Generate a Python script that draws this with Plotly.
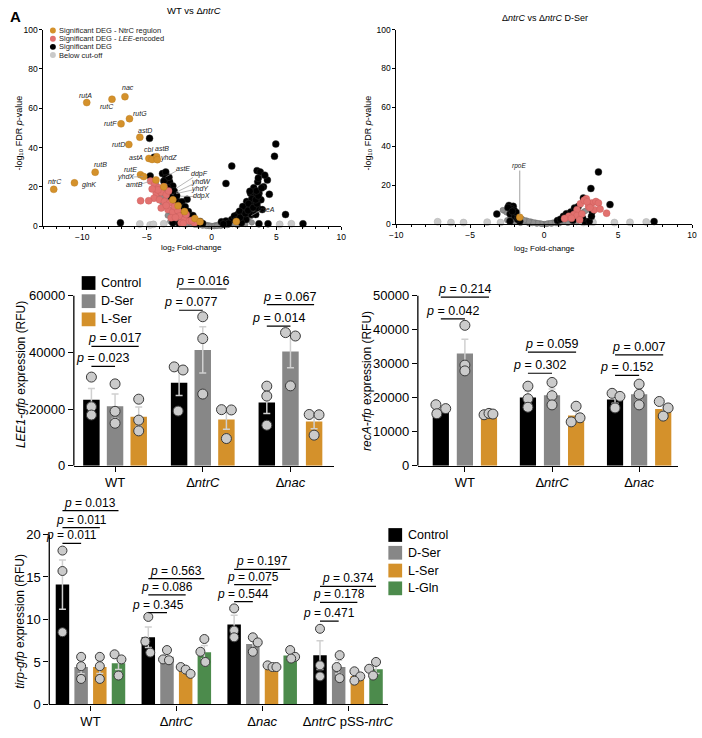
import plotly.graph_objects as go

W, H = 702, 738
FONT = "Arial, Liberation Sans, Helvetica, sans-serif"


def fx(p):
    return p / W


def fy(p):
    return 1 - p / H


ORANGE = "#D4912B"
PINK = "#E2716F"
GREEN = "#4C8B4C"
BARGRAY = "#878787"
LGRAY = "#C9C9C9"
MGRAY = "#8E8E8E"
ERRC = "#D0D0D0"
LABC = "#222222"

# ======================= DATA =======================
# ---- Volcano A : WT vs dntrC ----
A_reg_x = [-12.2, -10.6, -9.0, -9.65, -7.7, -6.7, -7.0, -6.35, -5.55, -6.4, -4.85, -4.6, -4.25, -4.2,
           -5.5, -5.25, -4.3, -3.7, -3.0, -2.6, -2.1, -1.3, -0.9, 1.9]
A_reg_y = [18.8, 22.1, 27.5, 62.9, 64.6, 65.9, 52.1, 54.7, 45.3, 41.6, 34.5, 34.0, 35.4, 33.9,
           26.2, 25.3, 23.6, 20.1, 13.5, 10.5, 7.5, 4.0, 2.3, 2.5]
A_lee_x = [-4.72, -4.41, -4.1, -3.69, -4.28, -3.9, -3.51, -4.46, -4.03, -3.64, -3.26, -5.49, -4.87, -3.9,
           -3.38, -3.0, -2.62, -3.13, -2.49, -2.1, -1.72, -1.33, -3.51, -2.87, -4.15, -3.33, -2.36, -1.97,
           -4.6, -2.8, -2.2, -1.55]
A_lee_y = [23.0, 21.3, 19.6, 20.1, 16.8, 17.3, 16.0, 14.3, 13.5, 12.6, 11.8, 13.0, 13.0, 9.3,
           8.5, 7.3, 8.0, 4.3, 5.2, 3.5, 2.7, 1.8, 10.6, 10.1, 18.5, 18.0, 1.8, 6.0,
           19.0, 4.5, 1.5, 3.0]
A_sig_x = [-4.8, -4.45, -4.75, -3.8, -3.55, -3.25, -3.0, -3.3, -1.9, -7.05, -3.0, -2.5, -2.8, -2.45,
           -2.2, -2.0, -1.7, -1.5, -1.2, -1.0, -3.1, -2.6, -3.55, -3.4,
           -3.7, -3.3, -2.9, -2.7, -2.3, -2.05, -1.8, -1.45, -0.9, -0.7,
           4.95, 4.85, 1.55, 1.1, 3.5, 3.75, 3.55, 4.3, 4.0, 4.45, 5.7, 7.05, 3.65, 4.35, 0.75, 1.55,
           2.0, 2.5, 2.9, 3.15, 3.3, 3.0, 3.25, 2.7, 2.4, 2.15, 1.75, 1.1, 3.8, 3.55, 3.05, 2.65,
           2.3, 3.4, 3.9, 3.65, 3.1, 2.85, 1.3,
           0.9, 1.9, 2.2, 2.6, 2.8, 3.2, 3.5, 3.4, 3.6, 3.45, 3.85, 2.95, 4.1, 3.6]
A_sig_y = [44.7, 35.1, 25.6, 26.8, 27.6, 22.6, 20.5, 17.0, 13.7, 1.8, 1.8, 1.5, 11.0, 9.0,
           7.0, 5.5, 4.0, 3.0, 2.0, 1.5, 14.5, 12.5, 24.5, 19.5,
           23.0, 25.0, 18.0, 15.5, 12.5, 10.0, 7.5, 5.5, 2.5, 1.5,
           41.8, 35.6, 30.6, 21.8, 28.3, 27.6, 22.6, 23.5, 20.1, 16.3, 6.0, 1.3, 1.3, 1.3, 2.3, 3.5,
           6.0, 8.5, 10.6, 12.6, 15.1, 16.8, 19.6, 12.6, 10.1, 7.7, 5.2, 2.7, 13.5, 9.3, 6.0, 3.5,
           1.8, 6.0, 8.5, 16.8, 14.0, 11.5, 1.5,
           1.2, 3.2, 4.5, 6.5, 8.0, 9.5, 11.5, 13.5, 15.5, 18.0, 19.5, 17.8, 26.0, 24.5]
A_cut_x = [-5.55, -4.75, -4.5, -3.7, 5.25, 6.15]
A_cut_y = [1.2, 0.7, 1.0, 1.3, 1.0, 1.3]
A_ns_x = [-0.3, -0.6, -0.9, -1.2, -1.5, -1.8, -2.1, -2.4, -2.7, -3.0, -3.3, -3.6, -3.9,
          -0.5, -0.8, -1.1, -1.4, -1.7, -2.0, -2.3, -2.6, -2.9, -3.2, -3.5, -3.8,
          -0.7, -1.0, -1.3, -1.6, -1.9, -2.2, -2.5, -2.8, -3.1, -3.4,
          -1.0, -1.5, -2.0, -2.5, -3.0,
          -0.2, -0.45, -0.75, -1.05, -1.35, -1.65, -1.95, -2.25, -2.55, -2.85, -3.15, -3.45, -3.75,
          -4.05, -4.3, -1.2, -1.8, -2.4, -2.7, -3.0, -3.3, -3.6, -3.9, -4.2, -2.0, -2.6, -3.2,
          0.3, 0.6, 0.9, 1.2, 1.5, 1.8, 2.1, 2.4, 2.7, 3.0, 3.2,
          0.5, 0.8, 1.1, 1.4, 1.7, 2.0, 2.3, 2.6, 2.9,
          0.7, 1.0, 1.3, 1.6, 1.9, 2.2, 2.5, 2.8,
          0.2, 0.45, 0.75, 1.05, 1.35, 1.65, 1.95, 2.25, 2.55, 2.85, 3.1, 3.35,
          1.2, 1.8, 2.4, 2.7, 3.0, 3.2, 3.4, 2.0, 2.6, 3.1,
          0.0, 0.1, -0.1, 0.2, -0.2, 0.4, -0.4]
A_ns_y = [0.6, 1.2, 2.0, 2.9, 3.9, 5.0, 6.4, 7.9, 9.6, 11.5, 13.6, 15.8, 18.5,
          0.5, 1.1, 1.6, 2.3, 3.0, 3.8, 4.7, 5.8, 7.0, 8.3, 10.0, 12.0,
          0.3, 0.5, 0.8, 1.2, 1.6, 2.2, 2.8, 3.5, 4.5, 5.5,
          1.3, 2.0, 2.8, 4.0, 6.0,
          0.4, 0.8, 1.5, 2.2, 3.2, 4.3, 5.6, 7.0, 8.6, 10.4, 12.4, 14.6, 17.0,
          19.5, 21.5, 1.0, 2.0, 3.2, 5.0, 6.5, 8.0, 12.5, 14.5, 16.5, 0.8, 1.5, 2.5,
          0.5, 1.0, 1.7, 2.5, 3.4, 4.5, 5.8, 7.3, 9.0, 11.0, 13.0,
          0.4, 0.8, 1.3, 1.9, 2.6, 3.4, 4.3, 5.4, 6.8,
          0.2, 0.5, 0.8, 1.1, 1.5, 2.0, 2.6, 3.3,
          0.3, 0.7, 1.3, 2.0, 2.9, 3.9, 5.1, 6.5, 8.1, 9.9, 12.0, 14.5,
          0.6, 1.2, 2.2, 4.0, 5.0, 8.0, 10.5, 0.6, 1.2, 2.0,
          0.1, 0.2, 0.3, 0.1, 0.1, 0.2, 0.2]
A_lab_text = ["ntrC", "glnK", "rutB", "rutA", "rutC", "nac", "rutF", "rutG", "astD", "rutD",
              "cbl", "astB", "astA", "yhdZ", "rutE", "yhdX", "amtB", "astE", "ddpF", "yhdW",
              "yhdY", "ddpX", "rseA"]
A_lab_x = [-12.1, -9.5, -8.6, -9.75, -8.1, -6.45, -7.85, -5.55, -5.15, -7.2,
           -4.9, -3.8, -5.87, -3.3, -6.25, -6.65, -6.0, -2.2, -0.95, -0.85,
           -0.9, -0.8, 4.3]
A_lab_y = [22.6, 21.0, 31.2, 66.5, 61.0, 70.5, 52.2, 57.2, 48.8, 41.4,
           39.0, 39.3, 35.0, 34.5, 28.7, 25.1, 21.2, 29.3, 26.5, 22.6,
           19.0, 15.2, 8.6]
# leader lines: start (near label) -> end (at the gene's point)
A_lead_sx = [-6.05, -5.45, -2.7, -1.45, -1.35, -1.4, -1.3, 3.75]
A_lead_sy = [25.1, 21.5, 28.3, 24.8, 21.8, 18.6, 15.1, 8.0]
A_lead_ex = [-5.3, -4.8, -3.5, -2.7, -2.75, -2.75, -2.4, 3.05]
A_lead_ey = [25.3, 22.8, 25.3, 19.5, 17.3, 16.6, 15.3, 5.4]

# ---- Volcano B : dntrC vs dntrC D-Ser ----
B_reg_x = [-1.65]
B_reg_y = [3.5]
B_lee_x = [2.85, 3.22, 3.5, 3.67, 3.38, 3.78, 4.22, 2.45, 2.22, 2.0, 1.67, 1.38, 2.22, 2.55,
           2.7, 3.0, 2.9, 1.85, 2.4, 3.1]
B_lee_y = [13.0, 10.8, 11.6, 10.8, 7.4, 7.7, 5.6, 10.4, 7.4, 4.9, 4.0, 2.9, 4.4, 5.2,
           12.2, 9.0, 11.5, 3.0, 2.2, 8.4]
B_sig_x = [-3.2, -2.38, -2.09, -2.24, -2.02, -2.3, -1.98, -2.31, -1.65, -1.88, -2.45, -2.15, -1.8, -1.75,
           3.67, 3.16, 4.45, 3.25, 2.65, 0.9, 1.3, 1.5, 1.8, 2.05, 2.3, 2.75, 3.05, 3.2, 1.1, 7.43, 1.95, 2.6]
B_sig_y = [5.2, 9.6, 9.1, 7.9, 7.0, 5.2, 4.0, 1.5, 1.5, 5.9, 8.5, 6.5, 2.5, 3.3,
           26.8, 18.3, 10.0, 6.5, 13.4, 1.8, 4.0, 5.3, 6.2, 8.3, 9.0, 1.5, 1.5, 4.0, 2.5, 1.3, 2.0, 3.0]
B_cut_x = [-7.2, -6.3, -5.45, -3.85, -2.95, 2.65, 3.0, 3.3, 4.75, 5.8, 6.9]
B_cut_y = [1.2, 0.8, 0.8, 1.0, 0.8, 0.8, 0.9, 0.9, 0.8, 0.9, 1.1]
B_ns_x = [-0.3, -0.6, -0.9, -1.2, -1.5, -1.8, -2.1, -2.4, -2.7,
          -0.5, -0.8, -1.1, -1.4, -1.7, -2.0, -2.3,
          0.3, 0.6, 0.9, 1.2, 1.5, 1.8, 2.1, 2.4, 2.7,
          0.5, 0.8, 1.1, 1.4, 1.7, 2.0, 2.3,
          -1.0, -1.6, -2.2, 1.0, 1.6, 2.2, 0.0, 0.15, -0.15,
          -0.2, -0.45, -0.75, -1.05, -1.35, -1.65, -1.95, -2.25, -2.55, -2.8,
          0.2, 0.45, 0.75, 1.05, 1.35, 1.65, 1.95, 2.25, 2.55, 2.8,
          -2.5, -1.9, 1.9, 2.5]
B_ns_y = [0.4, 0.8, 1.3, 1.9, 2.7, 3.6, 4.6, 5.8, 6.8,
          0.2, 0.5, 0.8, 1.2, 1.6, 2.2, 2.9,
          0.4, 0.8, 1.3, 1.9, 2.6, 3.5, 4.5, 5.6, 6.5,
          0.2, 0.5, 0.8, 1.2, 1.6, 2.2, 2.8,
          0.3, 0.6, 1.0, 0.3, 0.6, 1.0, 0.05, 0.1, 0.1,
          0.2, 0.5, 0.9, 1.4, 2.0, 2.8, 3.7, 4.8, 6.0, 7.2,
          0.2, 0.5, 0.9, 1.4, 2.0, 2.8, 3.7, 4.7, 5.8, 6.8,
          2.0, 1.2, 1.2, 2.0]

# ---- Panel C : LEE1-gfp ----
C_groups = ["WT", "Δ<i>ntrC</i>", "Δ<i>nac</i>"]
C_series = ["Control", "D-Ser", "L-Ser"]
C_mean = [[23300, 29300, 22300], [21000, 40900, 40300], [17300, 16300, 15600]]
C_sem = [[4000, 4500, 3900], [4300, 8200, 5700], [3400, 3400, 2500]]
C_pts = [[[31300, 20800, 17900], [34900, 33800, 19300], [28100, 24600, 14300]],
         [[28900, 19200, 15000], [52600, 44900, 25300], [47000, 45800, 28200]],
         [[23500, 16100, 12300], [19800, 19700, 9600], [18100, 18000, 10800]]]
C_p = [("0.023", 0, 1, 35100), ("0.017", 0, 2, 42150), ("0.077", 1, 1, 54900),
       ("0.016", 1, 2, 62400), ("0.014", 2, 1, 49300), ("0.067", 2, 2, 56900)]

# ---- Panel D : recA-rfp ----
D_groups = ["WT", "Δ<i>ntrC</i>", "Δ<i>nac</i>"]
D_mean = [[16500, 20100, 19500], [33000, 20700, 21000], [15100, 14800, 16700]]
D_sem = [[800, 1800, 1100], [4200, 1900, 1800], [300, 1300, 1250]]
D_pts = [[[17950, 16800, 15300], [23400, 19700, 17200], [21300, 20400, 17000]],
         [[41300, 29600, 27900], [24500, 20600, 17900], [24000, 21000, 17900]],
         [[15000, 15400, 15200], [17500, 14100, 12900], [18900, 17000, 14600]]]
D_p = [("0.042", 0, 1, 43200), ("0.214", 0, 2, 49600), ("0.302", 1, 1, 27200),
       ("0.059", 1, 2, 33400), ("0.152", 2, 1, 26600), ("0.007", 2, 2, 32600)]

# ---- Panel E : tir-gfp ----
E_groups = ["WT", "Δ<i>ntrC</i>", "Δ<i>nac</i>", "Δ<i>ntrC</i> pSS-<i>ntrC</i>"]
E_series = ["Control", "D-Ser", "L-Ser", "L-Gln"]
E_mean = [[14.1, 7.9, 9.4, 5.8], [4.4, 5.6, 7.1, 4.4], [4.4, 3.95, 4.45, 3.35], [4.85, 6.15, 5.75, 4.15]]
E_sem = [[2.9, 1.2, 1.1, 1.7], [0.8, 0.4, 0.55, 0.8], [0.75, 0.25, 0.1, 0.35], [0.75, 0.8, 0.3, 0.5]]
E_pts = [[[18.1, 15.7, 8.5], [10.3, 7.4, 6.1], [11.3, 8.7, 7.9], [8.9, 4.6, 3.3]],
         [[5.6, 4.5, 3.0], [6.4, 5.3, 5.2], [7.9, 7.3, 6.2], [5.8, 4.4, 3.1]],
         [[5.6, 4.5, 3.0], [4.4, 4.1, 3.6], [4.6, 4.4, 4.4], [3.9, 3.3, 2.8]],
         [[5.9, 5.3, 3.4], [7.7, 6.2, 5.0], [6.4, 5.6, 5.4], [5.0, 4.2, 3.4]]]
E_p = [("0.011", 0, 1, 18.95), ("0.011", 0, 2, 20.8), ("0.013", 0, 3, 22.8),
       ("0.345", 1, 1, 10.8), ("0.086", 1, 2, 12.9), ("0.563", 1, 3, 14.8),
       ("0.544", 2, 1, 12.1), ("0.075", 2, 2, 14.1), ("0.197", 2, 3, 15.9),
       ("0.471", 3, 1, 9.8), ("0.178", 3, 2, 12.0), ("0.374", 3, 3, 13.9)]

# point jitter (pixels) - purely visual placement
C_jit = [[[0, 0, 0], [-5, 4, -1], [0, 0, 0]],
         [[0, 0, 0], [0, 0, 0], [-5, 5, 0]],
         [[0, 0, 0], [-5, 5, 0], [-5, 5, 0]]]
D_jit = [[[-5, 5, -4], [0, 0, 0], [-3, 5, 0]],
         [[0, 0, 0], [0, 0, 0], [0, 0, 0]],
         [[-5, 0, 4], [0, 4, -5], [-4, 5, 0]]]
E_jit = [[[0, 0, 0], [0, -3, 2], [0, 0, 0], [0, 0, 0]],
         [[0, 0, 0], [0, -4, 2], [0, 5, 0], [1, -2, 1]],
         [[0, 0, 0], [-5, 0, 5], [-4, 1, 5], [-3, 3, -3]],
         [[-4, 3, 0], [0, -4, 1], [0, 5, 1], [0, -7, -3]]]

# ======================= FIGURE =======================
fig = go.Figure()
shapes = []
ann = []


def txt(x, y, text, size, xanchor="center", yanchor="middle", angle=0, color="black", ref="paper"):
    ann.append(dict(x=x, y=y, xref=ref, yref=ref, text=text, showarrow=False, xanchor=xanchor,
                    yanchor=yanchor, textangle=angle, font=dict(family=FONT, size=size, color=color)))


def vol_panel(n, ns, cut, sig, lee, reg):
    xa = "x" if n == 1 else f"x{n}"
    ya = "y" if n == 1 else f"y{n}"
    common = dict(mode="markers", xaxis=xa, yaxis=ya, showlegend=False, cliponaxis=False, hoverinfo="skip")
    fig.add_trace(go.Scatter(x=ns[0], y=ns[1], marker=dict(size=5.5, color=MGRAY, line=dict(color="#6E6E6E", width=0.5)), **common))
    fig.add_trace(go.Scatter(x=cut[0], y=cut[1], marker=dict(size=7, color=LGRAY, line=dict(color="#AFAFAF", width=0.5)), **common))
    fig.add_trace(go.Scatter(x=sig[0], y=sig[1], marker=dict(size=7, color="black", line=dict(color="#333", width=0.4)), **common))
    fig.add_trace(go.Scatter(x=lee[0], y=lee[1], marker=dict(size=7, color=PINK, line=dict(color="#C85A58", width=0.4)), **common))
    fig.add_trace(go.Scatter(x=reg[0], y=reg[1], marker=dict(size=7, color=ORANGE, line=dict(color="#B87A1C", width=0.4)), **common))


vol_panel(1, (A_ns_x, A_ns_y), (A_cut_x, A_cut_y), (A_sig_x, A_sig_y),
          (A_lee_x, A_lee_y), (A_reg_x, A_reg_y))
for t, x, y in zip(A_lab_text, A_lab_x, A_lab_y):
    ann.append(dict(x=x, y=y, xref="x", yref="y", text=f"<i>{t}</i>", showarrow=False,
                    font=dict(family=FONT, size=7, color=LABC)))
for sx, sy, ex, ey in zip(A_lead_sx, A_lead_sy, A_lead_ex, A_lead_ey):
    shapes.append(dict(type="line", xref="x", yref="y", x0=sx, y0=sy, x1=ex, y1=ey,
                       line=dict(color="#9A9A9A", width=0.7)))

vol_panel(2, (B_ns_x, B_ns_y), (B_cut_x, B_cut_y), (B_sig_x, B_sig_y),
          (B_lee_x, B_lee_y), (B_reg_x, B_reg_y))
ann.append(dict(x=-1.7, y=30.0, xref="x2", yref="y2", text="<i>rpoE</i>", showarrow=False,
                font=dict(family=FONT, size=6.5, color=LABC)))
shapes.append(dict(type="line", xref="x2", yref="y2", x0=B_reg_x[0], x1=B_reg_x[0], y0=27.5, y1=B_reg_y[0] + 1,
                   line=dict(color="#8A8A8A", width=0.8)))


def vol_axes(xdom, ydom, xr, anchor_x, anchor_y):
    xd = dict(domain=xdom, range=xr, anchor=anchor_y, tickvals=[-10, -5, 0, 5, 10], ticks="outside",
              ticklen=3, tickwidth=0.8, tickcolor="black", showline=True, linecolor="black", linewidth=0.8,
              minor=dict(ticks="outside", ticklen=2, dtick=1, tick0=0, tickcolor="black", tickwidth=0.7),
              tickfont=dict(family=FONT, size=8.5, color="black"), showgrid=False, zeroline=False)
    yd = dict(domain=ydom, range=[0, 100], anchor=anchor_x, tickvals=[0, 20, 40, 60, 80, 100],
              ticks="outside", ticklen=3, tickwidth=0.8, tickcolor="black", showline=True,
              linecolor="black", linewidth=0.8, tickfont=dict(family=FONT, size=8.5, color="black"),
              showgrid=False, zeroline=False)
    return xd, yd


xA, yA = vol_axes([fx(37), fx(340)], [fy(225.3), fy(25)], [-13, 10], "x", "y")
xB, yB = vol_axes([fx(396), fx(697)], [fy(223), fy(25)], [-10, 10], "x2", "y2")

# volcano titles / axis titles / legend
txt(fx(190), fy(6), "WT vs Δ<i>ntrC</i>", 9.5)
txt(fx(547), fy(13), "Δ<i>ntrC</i> vs Δ<i>ntrC</i> D-Ser", 9)
txt(fx(188), fy(247), "log₂ Fold-change", 8)
txt(fx(547), fy(248), "log₂ Fold-change", 8)
txt(fx(12), fy(130), "-log₁₀ FDR <i>p</i>-value", 9, angle=-90)
txt(fx(367), fy(130), "-log₁₀ FDR <i>p</i>-value", 9, angle=-90)
txt(fx(1), fy(1), "<b>A</b>", 15, xanchor="left", yanchor="top")

leg_lab = ["Significant DEG - NtrC regulon", "Significant DEG - <i>LEE</i>-encoded",
           "Significant DEG", "Below cut-off"]
leg_col = [ORANGE, PINK, "black", LGRAY]
for i, (lab, col) in enumerate(zip(leg_lab, leg_col)):
    cy = 26 + i * 8.3
    shapes.append(dict(type="circle", xref="paper", yref="paper", x0=fx(43.7), x1=fx(49.7),
                       y0=fy(cy + 3), y1=fy(cy - 3), fillcolor=col, line=dict(width=0)))
    txt(fx(51), fy(cy), lab, 7.5, xanchor="left", color=LABC)


# ---- bar panels ----
def bar_panel(n, groups, series, colors, means, sems, pts, jit, pvals, slot, width, ppu,
              msize, pfont, ytop_line):
    xa, ya = f"x{n}", f"y{n}"
    ns = len(series)
    for k in range(ns):
        xs = [g + (k - (ns - 1) / 2) * slot for g in range(len(groups))]
        fig.add_trace(go.Bar(x=xs, y=means[k], width=width, name=series[k],
                             marker=dict(color=colors[k], line=dict(width=0)),
                             error_y=dict(type="data", array=sems[k], color=ERRC, thickness=1.5, width=3.5),
                             xaxis=xa, yaxis=ya, showlegend=False, hoverinfo="skip"))
    for k in range(ns):
        px_, py_ = [], []
        for g in range(len(groups)):
            for i, v in enumerate(pts[k][g]):
                px_.append(g + (k - (ns - 1) / 2) * slot + jit[k][g][i] / ppu)
                py_.append(v)
        fig.add_trace(go.Scatter(x=px_, y=py_, mode="markers", xaxis=xa, yaxis=ya, showlegend=False,
                                 cliponaxis=False, hoverinfo="skip",
                                 marker=dict(size=msize, color="#CBCBCB", line=dict(color="#3A3A3A", width=1))))
    for (p, g, k2, yv) in pvals:
        x0 = g + (0 - (ns - 1) / 2) * slot
        x1 = g + (k2 - (ns - 1) / 2) * slot
        shapes.append(dict(type="line", xref=xa, yref=ya, x0=x0, x1=x1, y0=yv, y1=yv,
                           line=dict(color="black", width=1.2)))
        ann.append(dict(x=(x0 + x1) / 2, y=yv, xref=xa, yref=ya, text=f"<i>p</i> = {p}", showarrow=False,
                        yshift=8, font=dict(family=FONT, size=pfont, color="black")))
    shapes.append(dict(type="line", xref=f"{xa} domain", yref=ya, x0=0, x1=0, y0=0, y1=ytop_line,
                       line=dict(color="black", width=1.3)))


def bar_axes(xdom, ydom, xr, yr, ytv, groups, anchor_x, anchor_y):
    xd = dict(domain=xdom, range=xr, anchor=anchor_y, tickvals=list(range(len(groups))), ticktext=groups,
              ticks="outside", ticklen=5, tickwidth=1.3, tickcolor="black", showline=True,
              linecolor="black", linewidth=1.3, tickfont=dict(family=FONT, size=13, color="black"),
              showgrid=False, zeroline=False)
    yd = dict(domain=ydom, range=yr, anchor=anchor_x, tickvals=ytv, tickformat="d", ticks="outside",
              ticklen=5, tickwidth=1.3, tickcolor="black", showline=False,
              tickfont=dict(family=FONT, size=13, color="black"), showgrid=False, zeroline=False)
    return xd, yd


col3 = ["black", BARGRAY, ORANGE]
col4 = ["black", BARGRAY, ORANGE, GREEN]

bar_panel(3, C_groups, C_series, col3, C_mean, C_sem, C_pts, C_jit, C_p, 0.2697, 0.1876, 89.2, 10, 12.5, 60000)
bar_panel(4, D_groups, C_series, col3, D_mean, D_sem, D_pts, D_jit, D_p, 0.2765, 0.186, 88.6, 10, 12.5, 50000)
bar_panel(5, E_groups, E_series, col4, E_mean, E_sem, E_pts, E_jit, E_p, 0.2176, 0.157, 87.3, 9, 12, 20)

xC, yC = bar_axes([fx(68), fx(333)], [fy(469), fy(278.7)], [-0.47, 2.5], [0, 66000],
                  [0, 20000, 40000, 60000], C_groups, "x3", "y3")
xD, yD = bar_axes([fx(418), fx(683)], [fy(469), fy(275.2)], [-0.54, 2.45], [0, 56000],
                  [0, 10000, 20000, 30000, 40000, 50000], D_groups, "x4", "y4")
xE, yE = bar_axes([fx(43), fx(388)], [fy(712), fy(500)], [-0.48, 3.47], [0, 24.5],
                  [0, 5, 10, 15, 20], E_groups, "x5", "y5")

txt(fx(15), fy(376), "<i>LEE1-gfp</i> expression (RFU)", 12, angle=-90)
txt(fx(367), fy(383), "<i>recA-rfp</i> expression (RFU)", 12, angle=-90)
txt(fx(13), fy(627), "<i>tirp-gfp</i> expression (RFU)", 12, angle=-90)

# bar legends
for i, (lab, col) in enumerate(zip(C_series, col3)):
    cy = 283 + i * 18.5
    shapes.append(dict(type="rect", xref="paper", yref="paper", x0=fx(76), x1=fx(90),
                       y0=fy(cy + 7), y1=fy(cy - 7), fillcolor=col, line=dict(width=0)))
    txt(fx(94), fy(cy), lab, 12.5, xanchor="left")
for i, (lab, col) in enumerate(zip(E_series, col4)):
    cy = 539.5 + i * 18.1
    shapes.append(dict(type="rect", xref="paper", yref="paper", x0=fx(388), x1=fx(402),
                       y0=fy(cy + 7), y1=fy(cy - 7), fillcolor=col, line=dict(width=0)))
    txt(fx(406), fy(cy), lab, 12.5, xanchor="left")

fig.update_layout(
    width=W, height=H, margin=dict(l=0, r=0, t=0, b=0, pad=0),
    paper_bgcolor="white", plot_bgcolor="white", barmode="overlay",
    font=dict(family=FONT, color="black"),
    xaxis=xA, yaxis=yA, xaxis2=xB, yaxis2=yB,
    xaxis3=xC, yaxis3=yC, xaxis4=xD, yaxis4=yD, xaxis5=xE, yaxis5=yE,
    shapes=shapes, annotations=ann, showlegend=False,
)

fig.write_html("out.html")
